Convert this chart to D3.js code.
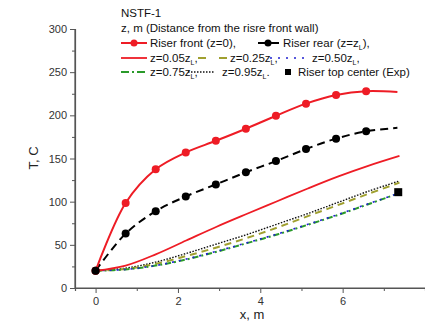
<!DOCTYPE html>
<html>
<head>
<meta charset="utf-8">
<script src="https://cdn.jsdelivr.net/npm/d3@7"></script>
<style>
  body { margin: 0; background: #fff; }
  svg { font-family: "Liberation Sans", Arial, sans-serif; }
</style>
</head>
<body>
<svg id="chart" width="425" height="333"></svg>
<script>
// marker positions along the riser (x, m)
const markerX = [0, 0.73, 1.46, 2.19, 2.92, 3.65, 4.38, 5.11, 5.84, 6.57, 7.33];
const frontT = [20, 98.5, 137.5, 157, 170.5, 184.5, 199.5, 213.5, 223.5, 228, 227];
const rearT = [20, 63, 89, 106, 120, 134, 147, 161, 173, 181.5, 185.5];

// model curves across the width (x, m)
const curveX = [0, 0.73, 1.46, 2.2, 2.94, 3.68, 4.41, 5.14, 5.88, 6.62, 7.38];
const z005 = [20, 26, 39, 55, 71, 86, 100.5, 115, 129, 141.5, 153];
const z025 = [20, 22, 28, 37, 47, 58, 70, 83, 96, 109, 122];
const z050 = [20, 21.5, 26, 33.5, 42.5, 52.5, 62.5, 73.5, 85, 97.5, 110];
const z075 = [20, 21.5, 26, 33, 42, 52, 62, 73, 84.5, 97, 110];
const z095 = [20, 23, 30, 40, 51, 62, 74, 86, 99, 112, 124];

const expX = [7.35];
const expT = [111];

const yTicks = [0, 50, 100, 150, 200, 250, 300];
const xTicks = [0, 2, 4, 6];

const svg = d3.select("#chart");
const x = d3.scaleLinear().domain([-0.5, 8.0]).range([75, 425]);
const y = d3.scaleLinear().domain([0, 300]).range([288, 29]);

// axes
const axisColor = "#555";
const yAxis = svg.append("g")
    .attr("transform", "translate(75,0)")
    .call(d3.axisLeft(y).tickValues(yTicks).tickSize(5).tickPadding(3));
svg.append("g")
    .attr("transform", "translate(75,0)")
    .call(d3.axisLeft(y).tickValues(d3.range(25, 300, 50)).tickSize(3).tickFormat(""));
const xAxis = svg.append("g")
    .attr("transform", "translate(0,288)")
    .call(d3.axisBottom(x).tickValues(xTicks).tickSize(5).tickPadding(4));
svg.append("g")
    .attr("transform", "translate(0,288)")
    .call(d3.axisBottom(x).tickValues([1, 3, 5, 7]).tickSize(3).tickFormat(""));
svg.selectAll(".domain").attr("stroke", axisColor).attr("stroke-width", 1.2);
svg.selectAll(".tick line").attr("stroke", axisColor);
svg.selectAll(".tick text").attr("fill", "#333").style("font-size", "11px")
    .style("font-family", "'Liberation Sans', Arial, sans-serif");
// x axis domain starts exactly at y axis
xAxis.select(".domain").attr("d", `M75,0H425`);
yAxis.select(".domain").attr("d", `M0,${y(300)}V288`);

svg.append("text")
    .attr("transform", "translate(38,158) rotate(-90)")
    .attr("text-anchor", "middle")
    .style("font-size", "13px").attr("fill", "#222")
    .text("T, C");
svg.append("text")
    .attr("x", 252).attr("y", 319)
    .attr("text-anchor", "middle")
    .style("font-size", "13px").attr("fill", "#222")
    .text("x, m");

const line = d3.line().x(d => x(d[0])).y(d => y(d[1])).curve(d3.curveCatmullRom);

const series = [
    { xs: curveX, ys: z095, color: "#111", width: 1.4, dash: "1.5,1.5" },
    { xs: curveX, ys: z025, color: "#a0a030", width: 2, dash: "7,5" },
    { xs: curveX, ys: z075, color: "#2a9a2a", width: 2, dash: "6,3,2,3" },
    { xs: curveX, ys: z050, color: "#2020d0", width: 1.6, dash: "2,5" },
    { xs: curveX, ys: z005, color: "#ee1c25", width: 1.8, dash: null },
    { xs: markerX, ys: rearT, color: "#000", width: 2, dash: "8,5" },
    { xs: markerX, ys: frontT, color: "#ee1c25", width: 2, dash: null }
];

series.forEach(s => {
    svg.append("path")
        .datum(s.xs.map((v, i) => [v, s.ys[i]]))
        .attr("fill", "none")
        .attr("stroke", s.color)
        .attr("stroke-width", s.width)
        .attr("stroke-dasharray", s.dash)
        .attr("d", line);
});

// markers (all but the curve end)
[[rearT, "#000"], [frontT, "#ee1c25"]].forEach(([ts, c]) => {
    svg.selectAll(null)
        .data(markerX.slice(0, -1).map((v, i) => [v, ts[i]]))
        .enter().append("circle")
        .attr("cx", d => x(d[0])).attr("cy", d => y(d[1]))
        .attr("r", 4).attr("fill", c);
});
svg.append("circle").attr("cx", x(0)).attr("cy", y(20)).attr("r", 4).attr("fill", "#000");

svg.selectAll(".exp")
    .data(expX.map((v, i) => [v, expT[i]]))
    .enter().append("rect")
    .attr("x", d => x(d[0]) - 4).attr("y", d => y(d[1]) - 4)
    .attr("width", 8).attr("height", 8).attr("fill", "#000");

// legend
const lg = svg.append("g").style("font-size", "11.5px").attr("fill", "#111");
lg.append("text").attr("x", 121).attr("y", 17).text("NSTF-1");
lg.append("text").attr("x", 121).attr("y", 32).text("z, m (Distance from the risre front wall)");

function sym(x0, x1, yy, color, width, dash) {
    lg.append("line").attr("x1", x0).attr("x2", x1).attr("y1", yy).attr("y2", yy)
        .attr("stroke", color).attr("stroke-width", width).attr("stroke-dasharray", dash);
}
function label(x0, yy, pre, sub, post) {
    const t = lg.append("text").attr("x", x0).attr("y", yy + 4).text(pre);
    if (sub) {
        t.append("tspan").attr("dy", 3).style("font-size", "7px").text(sub);
        t.append("tspan").attr("dy", -3).text(post);
    }
}
sym(121, 147, 43, "#ee1c25", 2, null);
lg.append("circle").attr("cx", 134).attr("cy", 43).attr("r", 3.5).attr("fill", "#ee1c25");
label(150, 43, "Riser front (z=0),");
sym(258, 279, 43, "#000", 2, null);
lg.append("circle").attr("cx", 268).attr("cy", 43).attr("r", 3.5).attr("fill", "#000");
label(283, 43, "Riser rear (z=z", "L", "),");

sym(121, 147, 58, "#ee1c25", 1.8, null);
label(150, 58, "z=0.05z", "L", ",");
sym(198, 227, 58, "#a0a030", 2, "8,13");
label(230, 58, "z=0.25z", "L", ",");
sym(270, 307, 58, "#2020d0", 1.6, "2,6");
label(312, 58, "z=0.50z", "L", ",");

sym(121, 147, 72, "#2a9a2a", 2, "8,3,2,3");
label(150, 72, "z=0.75z", "L", ",");
sym(188, 215, 72, "#111", 1.4, "1.5,1.5");
label(222, 72, "z=0.95z", "L", ".");
lg.append("rect").attr("x", 285).attr("y", 69).attr("width", 6).attr("height", 6).attr("fill", "#000");
label(298, 72, "Riser top center (Exp)");
</script>
</body>
</html>
